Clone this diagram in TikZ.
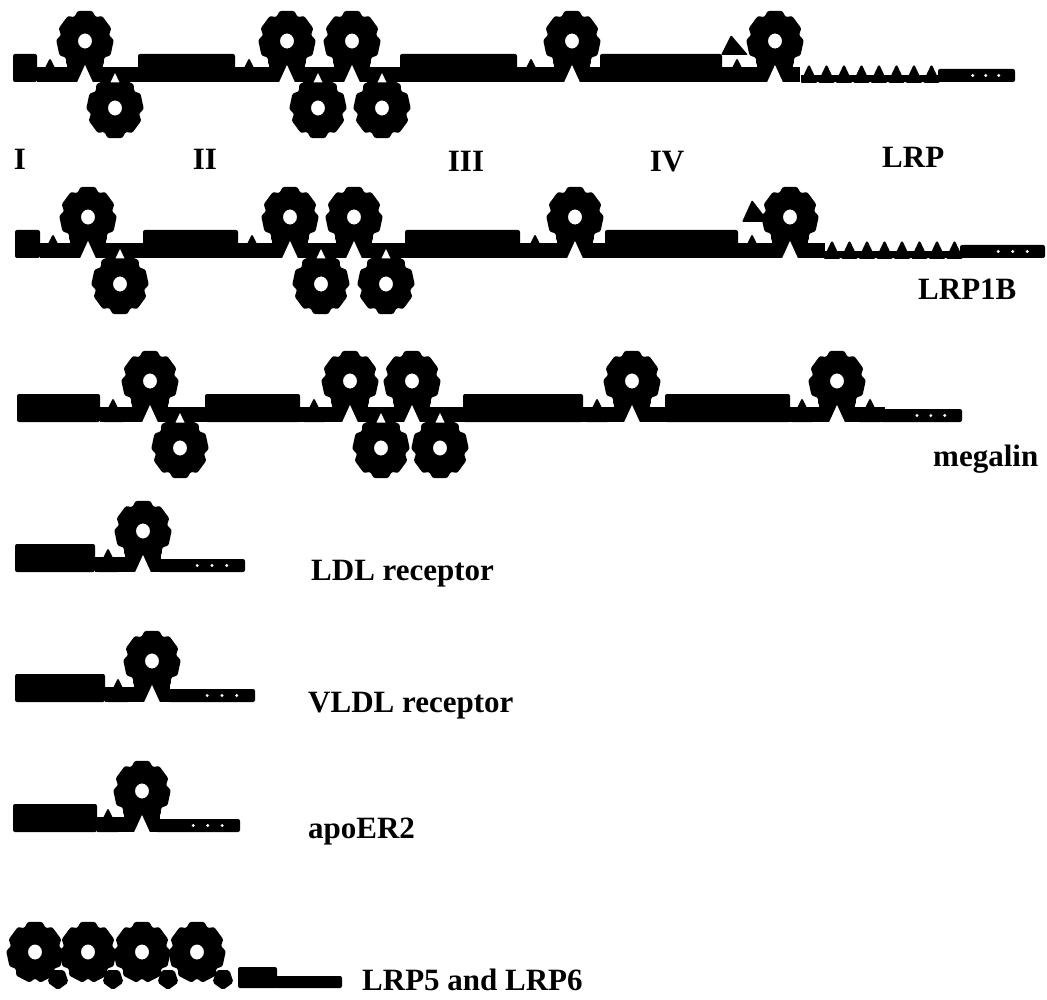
\documentclass[tikz,border=0pt]{standalone}
\usepackage{fontspec}
\setmainfont{Liberation Serif}

\tikzset{
  prop/.pic={
    \fill[yscale=1.08,even odd rule,rounded corners=2.5pt] (64.3:25pt)
      \foreach \a in {90,141.43,192.86,244.29,295.71,347.14,398.57}
        { -- (\a-22:25pt) -- (\a-16:29pt) -- (\a+16:29pt) -- (\a+22:25pt) } -- cycle
      (0,0) circle (7pt);
  },
  egfp/.pic={
    \fill[rounded corners=2pt] (-90:11pt) -- (-18:11pt) -- (54:11pt) -- (126:11pt) -- (198:11pt) -- cycle;
  },
  lab/.style={font=\bfseries\fontsize{31}{34}\selectfont,inner sep=0pt,anchor=base west},
  num/.style={lab,anchor=base}
}

\newcommand{\lbr}[3]{\fill[rounded corners=2pt] (#1,#3-14) rectangle (#2,#3+14);}
\newcommand{\lnk}[3]{\fill (#1,#3-1) rectangle (#2,#3+14);}
\newcommand{\egf}[2]{\fill[rounded corners=2pt] (#1-12,#2+14) -- (#1,#2-10) -- (#1+12,#2+14) -- cycle;}
\newcommand{\egfrow}[3]{\fill (#1-8,#3+7) rectangle (#1+17.5*#2-9,#3+14);
  \foreach \k in {0,...,\numexpr#2-1\relax}
    \fill[rounded corners=2.5pt] (#1+17.5*\k-9,#3+15) -- (#1+17.5*\k,#3-4) -- (#1+17.5*\k+9,#3+15) -- cycle;}
\newcommand{\cyto}[3]{\fill[rounded corners=2pt] (#1,#3+1) rectangle (#2,#3+14);
  \foreach \f in {0.45,0.62,0.79} \fill[white] ({#1+\f*(#2-#1)},#3+7.5) circle (1.6pt);}
\newcommand{\propup}[2]{\fill (#1-18,#2-8) rectangle (#1+18,#2+14);
  \pic at (#1,#2-27) {prop};
  \fill[white] (#1,#2-3) -- (#1-8,#2+14.5) -- (#1+8,#2+14.5) -- cycle;}
\newcommand{\propdn}[2]{\pic[rotate=180] at (#1,#2+40) {prop};
  \fill[white] (#1,#2+5) -- (#1-4.5,#2+14.5) -- (#1+4.5,#2+14.5) -- cycle;}

\begin{document}
\begin{tikzpicture}[x={(1pt,0pt)},y={(0pt,-1pt)}]
\useasboundingbox (0,0) rectangle (1047,1000);

% LRP
\lnk{37}{800}{68}
\lbr{13}{37}{68} \lbr{138}{235}{68} \lbr{400}{517}{68} \lbr{600}{722}{68}
\foreach \x in {50,249,531,737} {\egf{\x}{68}}
\egfrow{809}{8}{68}
\foreach \x in {85,287,352,572,775} {\propup{\x}{68}}
\foreach \x in {115,318,382} {\propdn{\x}{68}}
\cyto{938}{1015}{68}
\fill[rounded corners=1pt] (731,35) -- (721,55) -- (748,55) -- cycle;

% LRP1B
\lnk{40}{825}{244}
\lbr{15}{40}{244} \lbr{143}{238}{244} \lbr{405}{520}{244} \lbr{605}{738}{244}
\foreach \x in {53,252,535,752} {\egf{\x}{244}}
\egfrow{832}{8}{244}
\foreach \x in {88,290,354,575,790} {\propup{\x}{244}}
\foreach \x in {120,321,386} {\propdn{\x}{244}}
\cyto{960}{1045}{244}
\fill[rounded corners=1pt] (752,200) -- (742,222) -- (769,222) -- cycle;

% megalin
\lnk{100}{885}{408}
\lbr{17}{100}{408} \lbr{205}{300}{408} \lbr{463}{583}{408} \lbr{665}{790}{408}
\foreach \x in {113,314,597,802,870} {\egf{\x}{408}}
\foreach \x in {150,350,412,632,837} {\propup{\x}{408}}
\foreach \x in {180,381,440} {\propdn{\x}{408}}
\cyto{880}{962}{408}

% LDL receptor, VLDL receptor, apoER2
\lnk{95}{160}{558} \lbr{15}{95}{558} \egf{108}{558} \propup{143}{558} \cyto{158}{245}{558}
\lnk{105}{170}{688} \lbr{15}{105}{688} \egf{118}{688} \propup{152}{688} \cyto{168}{255}{688}
\lnk{97}{157}{818} \lbr{13}{97}{818} \egf{108}{818} \propup{142}{818} \cyto{155}{240}{818}

% LRP5 and LRP6
\foreach \x in {58,113,168,223} {\pic at (\x,979) {egfp};}
\foreach \x in {35,88,142,197} {\pic at (\x,952) {prop};}
\fill[rounded corners=2pt] (238,967) rectangle (277,988);
\fill[rounded corners=2pt] (274,976) rectangle (342,988);

\node[num] (c1) at (20,170) {I};
\node[num] (c2) at (205,170) {II};
\node[num] (c3) at (466,172) {III};
\node[num] (c4) at (667,172) {IV};

\node[lab] (lrp) at (882,168) {LRP};
\node[lab] (lrp1b) at (918,300) {LRP1B};
\node[lab] (meg) at (933,466) {megalin};
\node[lab] (ldlr) at (311,580) {LDL receptor};
\node[lab] (vldlr) at (308,712) {VLDL receptor};
\node[lab] (apoer) at (308,838) {apoER2};
\node[lab] (lrp56) at (362,990) {LRP5 and LRP6};
\end{tikzpicture}
\end{document}
